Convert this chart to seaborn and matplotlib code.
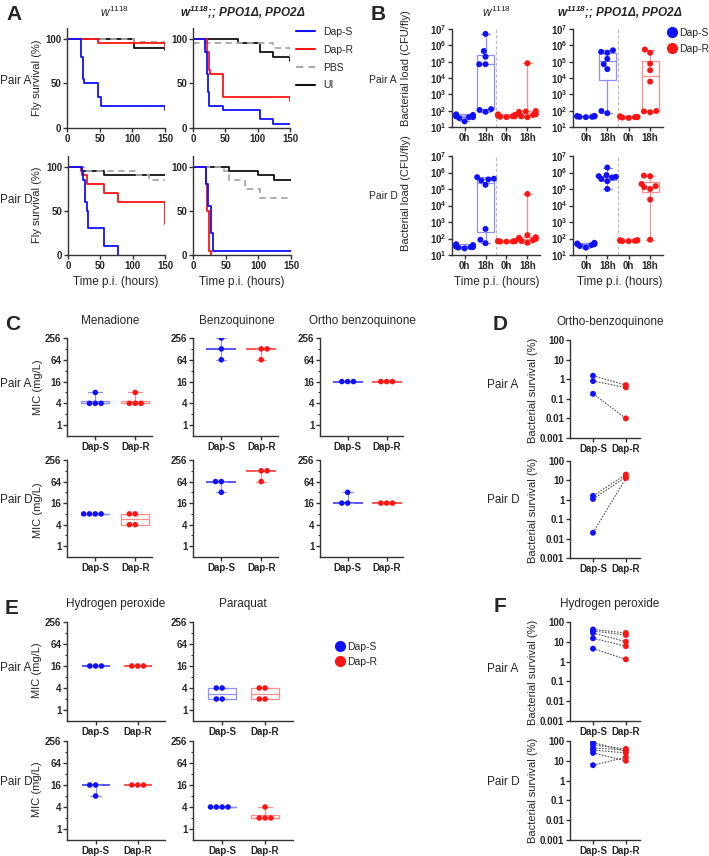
import numpy as np
import pandas as pd
import matplotlib
matplotlib.use("Agg")
import matplotlib.pyplot as plt
import seaborn as sns
from matplotlib.lines import Line2D
from matplotlib.ticker import NullLocator, NullFormatter

# ---------------- data ----------------
# A: Kaplan-Meier survival (time h, survival %)
A_w_S_t = [0, 22, 24, 26, 47, 52, 150, 150];     A_w_S_s = [100, 80, 55, 50, 35, 25, 25, 20]
A_w_R_t = [0, 48, 150, 150];                      A_w_R_s = [100, 95, 95, 90]
A_w_PBS_t = [0, 103, 150];                        A_w_PBS_s = [100, 96, 96]
A_w_UI_t = [0, 103, 150, 150];                    A_w_UI_s = [100, 90, 90, 87]
A_p_S_t = [0, 19, 21, 23, 25, 47, 103, 124, 150]; A_p_S_s = [100, 85, 60, 40, 25, 20, 10, 5, 5]
A_p_R_t = [0, 21, 24, 26, 47, 150, 150];          A_p_R_s = [100, 85, 65, 60, 35, 35, 30]
A_p_PBS_t = [0, 5, 124, 150, 150];                A_p_PBS_s = [95, 95, 90, 90, 80]
A_p_UI_t = [0, 70, 103, 124, 150, 150];           A_p_UI_s = [100, 95, 85, 80, 80, 75]
D_w_S_t = [0, 21, 23, 26, 27, 30, 31, 55, 77];    D_w_S_s = [100, 95, 85, 75, 60, 50, 30, 10, 0]
D_w_R_t = [0, 20, 22, 30, 55, 77, 150, 150];      D_w_R_s = [100, 95, 90, 80, 70, 60, 60, 35]
D_w_PBS_t = [0, 25, 103, 125, 150];               D_w_PBS_s = [100, 95, 90, 85, 85]
D_w_UI_t = [0, 22, 55, 150];                      D_w_UI_s = [100, 95, 90, 90]
D_p_S_t = [0, 20, 23, 27, 30, 150];               D_p_S_s = [100, 80, 55, 25, 5, 5]
D_p_R_t = [0, 20, 22, 24, 27];                    D_p_R_s = [100, 80, 50, 5, 0]
D_p_PBS_t = [0, 47, 55, 79, 103, 150];            D_p_PBS_s = [100, 95, 85, 75, 65, 65]
D_p_UI_t = [0, 55, 100, 124, 150];                D_p_UI_s = [100, 95, 90, 85, 85]

# B: bacterial load (CFU/fly)
B_A_w = {"S0": [60, 55, 50, 45, 45, 40, 40, 35, 22],
         "S18": [5e6, 4.5e5, 2e5, 7e4, 7e4, 125, 110, 85],
         "R0": [60, 55, 50, 50, 45, 45, 40, 42],
         "R18": [8e4, 95, 90, 85, 70, 60, 55, 45, 40]}
B_A_p = {"S0": [48, 45, 42, 45, 40, 44, 47, 42],
         "S18": [5e5, 4e5, 3.5e5, 1.5e5, 7e4, 3.5e4, 95, 70],
         "R0": [42, 40, 38, 45, 40, 36, 42],
         "R18": [5.5e5, 3.5e5, 7.5e4, 3e4, 6e3, 95, 90, 80]}
B_D_w = {"S0": [40, 35, 45, 30, 28, 25, 32, 30, 35],
         "S18": [5.2e5, 4.2e5, 3.8e5, 3.3e5, 1.8e5, 380, 84, 52],
         "R0": [70, 68, 65, 70, 66, 68, 65],
         "R18": [5e4, 160, 120, 100, 95, 80, 70, 55, 110]}
B_D_p = {"S0": [55, 50, 45, 40, 35, 45, 50, 28],
         "S18": [2e6, 7e5, 6e5, 5.5e5, 5e5, 4e5, 3e5, 1e5],
         "R0": [75, 80, 70, 75, 78, 70, 72],
         "R18": [6.5e5, 6e5, 2e5, 1.5e5, 1.3e5, 1e5, 2.3e4, 85]}
B_groups = ["S0", "S18", "R0", "R18"]
B_ticklabels = ["0h", "18h", "0h", "18h"]

# C / E: MIC (mg/L)
mic_titles_C = ["Menadione", "Benzoquinone", "Ortho benzoquinone"]
mic_C_A = [([8, 4, 4, 4], [8, 4, 4, 4]), ([256, 128, 64], [128, 128, 64]), ([16, 16, 16], [16, 16, 16])]
mic_C_D = [([8, 8, 8, 8], [8, 8, 4, 4]), ([64, 64, 32], [128, 128, 64]), ([32, 16, 16], [16, 16, 16])]
mic_titles_E = ["Hydrogen peroxide", "Paraquat"]
mic_E_A = [([16, 16, 16], [16, 16, 16]), ([4, 4, 2, 2], [4, 4, 2, 2])]
mic_E_D = [([16, 16, 8], [16, 16, 16]), ([4, 4, 4, 4], [4, 2, 2, 2])]

# D / F: bacterial survival (%), paired replicates
surv_D_A = ([1.5, 0.8, 0.18], [0.5, 0.38, 0.01])
surv_D_D = ([1.6, 1.1, 0.02], [20, 15, 13])
surv_F_A = ([42, 35, 28, 15, 4.5], [28, 22, 10, 6, 1.3])
surv_F_D = ([85, 65, 45, 35, 25, 6], [30, 40, 35, 25, 10, 15])

strains = ["Dap-S", "Dap-R"]
BLUE, RED = "#1010FF", "#FF1414"
MBLUE, MRED = "#3A3AFF", "#FF3A3A"
LBLUE, LRED = "#8F8FFF", "#FF8F8F"
pal = {"Dap-S": BLUE, "Dap-R": RED}
mpal = {"Dap-S": MBLUE, "Dap-R": MRED}
lpal = {"Dap-S": LBLUE, "Dap-R": LRED}

sns.set_style("ticks")
plt.rcParams["font.family"] = ["Liberation Sans", "DejaVu Sans"]
plt.rcParams["mathtext.fontset"] = "custom"
plt.rcParams["mathtext.rm"] = "Liberation Sans"
plt.rcParams["mathtext.it"] = "Liberation Sans:italic"
plt.rcParams["mathtext.bf"] = "Liberation Sans:italic:bold"   # bold-italic genotype title
plt.rcParams["mathtext.sf"] = "Liberation Sans:bold"          # bold log tick labels

W, H = 709, 856
fig = plt.figure(figsize=(W / 100, H / 100), dpi=100)
AXC = "#333333"

W1118 = r"$\mathit{w}^{\mathit{1118}}$"
PPO = r"$\mathbf{w^{1118}}$;; PPO1Δ, PPO2Δ"


def add_ax(l, t, r, b):
    return fig.add_axes([l / W, 1 - b / H, (r - l) / W, (b - t) / H])


def txt(x, y, s, size=8.5, ha="center", **kw):
    fig.text(x / W, 1 - y / H, s, ha=ha, va="center", fontsize=size, **kw)


def style(ax):
    sns.despine(ax=ax)
    for sp in ["left", "bottom"]:
        ax.spines[sp].set_linewidth(1.0)
        ax.spines[sp].set_color(AXC)
    ax.tick_params(width=1.0, length=2.8, color=AXC, labelsize=7, pad=1.3)
    ax.set_xlabel("")
    ax.set_ylabel("")


# ---------------- A: survival curves ----------------
surv_sets = [
    (add_ax(67, 28, 165, 128), [(A_w_UI_t, A_w_UI_s, "UI"), (A_w_PBS_t, A_w_PBS_s, "PBS"), (A_w_R_t, A_w_R_s, "Dap-R"), (A_w_S_t, A_w_S_s, "Dap-S")]),
    (add_ax(193, 28, 290, 128), [(A_p_UI_t, A_p_UI_s, "UI"), (A_p_PBS_t, A_p_PBS_s, "PBS"), (A_p_R_t, A_p_R_s, "Dap-R"), (A_p_S_t, A_p_S_s, "Dap-S")]),
    (add_ax(68, 156, 165, 255), [(D_w_UI_t, D_w_UI_s, "UI"), (D_w_PBS_t, D_w_PBS_s, "PBS"), (D_w_R_t, D_w_R_s, "Dap-R"), (D_w_S_t, D_w_S_s, "Dap-S")]),
    (add_ax(193, 156, 291, 255), [(D_p_UI_t, D_p_UI_s, "UI"), (D_p_PBS_t, D_p_PBS_s, "PBS"), (D_p_R_t, D_p_R_s, "Dap-R"), (D_p_S_t, D_p_S_s, "Dap-S")]),
]
line_style = {"Dap-S": dict(color=BLUE, ls="-"), "Dap-R": dict(color=RED, ls="-"),
              "PBS": dict(color="#A8A8A8", ls=(0, (3.5, 2.5))), "UI": dict(color="#111111", ls="-")}
for ax, curves in surv_sets:
    for t, s, name in curves:
        sns.lineplot(x=t, y=s, estimator=None, sort=False, drawstyle="steps-post",
                     lw=1.3, ax=ax, **line_style[name])
    ax.set_xlim(0, 150)
    ax.set_ylim(0, 112)
    ax.set_xticks([0, 50, 100, 150])
    ax.set_xticklabels(["0", "50", "100", "150"], fontweight="bold")
    ax.set_yticks([0, 50, 100])
    ax.set_yticklabels(["0", "50", "100"], fontweight="bold")
    style(ax)

handles = [Line2D([], [], lw=1.5, **line_style[n]) for n in ["Dap-S", "Dap-R", "PBS", "UI"]]
fig.legend(handles, ["Dap-S", "Dap-R", "PBS", "UI"], loc="upper left",
           bbox_to_anchor=(296 / W, 1 - 27 / H), frameon=False, fontsize=7.5,
           handlelength=1.8, handletextpad=0.8, labelspacing=0.75, borderpad=0, borderaxespad=0)

txt(14, 15, "A", size=15, weight="bold")
txt(115, 12, W1118, size=8.5)
txt(243, 12, PPO, size=8.5, weight="bold", style="italic")
txt(0, 81, "Pair A", ha="left")
txt(0, 200, "Pair D", ha="left")
txt(37, 78, "Fly survival (%)", size=8, rotation=90)
txt(37, 205, "Fly survival (%)", size=8, rotation=90)
txt(116, 282, "Time p.i. (hours)", size=8.5)
txt(242, 282, "Time p.i. (hours)", size=8.5)

# ---------------- B: bacterial load ----------------
B_sets = [(add_ax(452, 29, 540, 127), B_A_w), (add_ax(573, 29, 663, 127), B_A_p),
          (add_ax(452, 156, 540, 255), B_D_w), (add_ax(573, 156, 663, 255), B_D_p)]
for ax, d in B_sets:
    df = pd.DataFrame([(g, v, "Dap-S" if g.startswith("S") else "Dap-R")
                       for g in B_groups for v in d[g]], columns=["grp", "val", "strain"])
    ax.set_yscale("log")
    sns.boxplot(data=df, x="grp", y="val", hue="strain", order=B_groups, palette=lpal,
                fill=False, whis=(0, 100), width=0.8, linewidth=0.9, showfliers=False,
                dodge=False, legend=False, ax=ax)
    sns.swarmplot(data=df, x="grp", y="val", hue="strain", order=B_groups, palette=pal,
                  size=4.3, linewidth=0, legend=False, ax=ax, warn_thresh=1)
    ax.axvline(1.5, color="#BBBBBB", lw=0.8, ls=(0, (3, 2)))
    ax.set_xlim(-0.6, 3.6)
    ax.set_ylim(10, 1e7)
    ax.set_yticks([10 ** i for i in range(1, 8)])
    ax.set_yticklabels([r"$\mathsf{10^{%d}}$" % i for i in range(1, 8)])
    ax.yaxis.set_minor_locator(NullLocator())
    ax.set_xticks(range(4))
    ax.set_xticklabels(B_ticklabels, fontweight="bold")
    style(ax)

fig.legend([Line2D([], [], marker="o", ls="", color=BLUE, markersize=7),
            Line2D([], [], marker="o", ls="", color=RED, markersize=7)], strains,
           loc="upper left", bbox_to_anchor=(666 / W, 1 - 28 / H), frameon=False, fontsize=7.5,
           handletextpad=0.1, labelspacing=0.55, borderpad=0, borderaxespad=0, handlelength=1.2)

txt(378, 14, "B", size=15, weight="bold")
txt(497, 12, W1118, size=8.5)
txt(620, 12, PPO, size=8.5, weight="bold", style="italic")
txt(369, 80, "Pair A", size=7.5, ha="left")
txt(369, 196, "Pair D", size=7.5, ha="left")
txt(406, 68, "Bacterial load (CFU/fly)", size=8, rotation=90)
txt(406, 193, "Bacterial load (CFU/fly)", size=8, rotation=90)
txt(497, 282, "Time p.i. (hours)", size=8.5)
txt(620, 282, "Time p.i. (hours)", size=8.5)


# ---------------- C / E: MIC ----------------
def mic_plot(ax, pair, xlim, width):
    s_vals, r_vals = pair
    df = pd.DataFrame({"strain": ["Dap-S"] * len(s_vals) + ["Dap-R"] * len(r_vals),
                       "val": list(s_vals) + list(r_vals)})
    ax.set_yscale("log", base=2)
    for st in strains:
        sub = df[df["strain"] == st]
        if len(sub) > 3:
            # box (quartiles) with min-max whiskers
            sns.boxplot(data=sub, x="strain", y="val", hue="strain", order=strains, palette=lpal,
                        fill=False, whis=(0, 100), width=width, linewidth=0.9, showfliers=False,
                        dodge=False, legend=False, ax=ax)
        else:
            # median with range
            sns.pointplot(data=sub, x="strain", y="val", hue="strain", order=strains, palette=mpal,
                          estimator="median", errorbar=("pi", 100), linestyle="none", marker="_",
                          markersize=width * 30, markeredgewidth=1.2, capsize=0.25,
                          err_kws={"linewidth": 0.9, "color": lpal[st]}, legend=False, ax=ax)
    sns.swarmplot(data=df, x="strain", y="val", hue="strain", order=strains, palette=pal,
                  size=4.0, linewidth=0, legend=False, ax=ax, zorder=4)
    ax.set_xlim(*xlim)
    ax.set_ylim(0.5, 256)
    ax.set_yticks([1, 4, 16, 64, 256])
    ax.set_yticklabels(["1", "4", "16", "64", "256"], fontweight="bold")
    ax.set_yticks([2, 8, 32, 128], minor=True)
    ax.yaxis.set_minor_formatter(NullFormatter())
    ax.set_xticks([0, 1])
    ax.set_xticklabels(strains, fontweight="bold")
    style(ax)
    ax.tick_params(which="minor", length=1.8, width=0.8, color=AXC)


C_cols = [(67, 152), (193, 278), (320, 403)]
for (l, r), pa, pd_, title in zip(C_cols, mic_C_A, mic_C_D, mic_titles_C):
    mic_plot(add_ax(l, 338, r, 436), pa, (-0.71, 1.42), 0.7)
    mic_plot(add_ax(l, 460, r, 557), pd_, (-0.71, 1.42), 0.7)
    txt((l + r) / 2 + 1, 321, title, size=8.5)
txt(13, 325, "C", size=15, weight="bold")
txt(0, 384, "Pair A", ha="left")
txt(0, 500, "Pair D", ha="left")
txt(38, 387, "MIC (mg/L)", size=8, rotation=90)
txt(38, 510, "MIC (mg/L)", size=8, rotation=90)

E_cols = [(67, 165), (193, 293)]
for (l, r), pa, pd_, title in zip(E_cols, mic_E_A, mic_E_D, mic_titles_E):
    mic_plot(add_ax(l, 622, r, 721), pa, (-0.68, 1.65), 0.65)
    mic_plot(add_ax(l, 741, r, 840), pd_, (-0.68, 1.65), 0.65)
txt(116, 604, mic_titles_E[0], size=8.5)
txt(243, 604, mic_titles_E[1], size=8.5)
txt(12, 608, "E", size=15, weight="bold")
txt(0, 668, "Pair A", ha="left")
txt(0, 782, "Pair D", ha="left")
txt(37, 670, "MIC (mg/L)", size=8, rotation=90)
txt(37, 789, "MIC (mg/L)", size=8, rotation=90)
fig.legend([Line2D([], [], marker="o", ls="", color=BLUE, markersize=7),
            Line2D([], [], marker="o", ls="", color=RED, markersize=7)], strains,
           loc="upper left", bbox_to_anchor=(334 / W, 1 - 642 / H), frameon=False, fontsize=7.5,
           handletextpad=0.1, labelspacing=0.45, borderpad=0, borderaxespad=0, handlelength=1.2)


# ---------------- D / F: paired survival ----------------
def paired_plot(ax, pair):
    s_vals, r_vals = pair
    n = len(s_vals)
    df = pd.DataFrame({"strain": ["Dap-S"] * n + ["Dap-R"] * n,
                       "val": list(s_vals) + list(r_vals),
                       "rep": list(range(n)) * 2})
    ax.set_yscale("log")
    sns.lineplot(data=df, x="strain", y="val", units="rep", estimator=None, sort=False,
                 color="#555555", lw=0.8, ls=(0, (1.5, 1.2)), ax=ax)
    sns.scatterplot(data=df, x="strain", y="val", hue="strain", palette=pal, s=18,
                    linewidth=0, legend=False, zorder=3, ax=ax)
    ax.set_xlim(-0.7, 1.43)
    ax.set_ylim(0.001, 100)
    ax.set_yticks([0.001, 0.01, 0.1, 1, 10, 100])
    ax.set_yticklabels(["0.001", "0.01", "0.1", "1", "10", "100"], fontweight="bold")
    ax.yaxis.set_minor_locator(NullLocator())
    ax.set_xticks([0, 1])
    ax.set_xticklabels(strains, fontweight="bold")
    style(ax)


paired_plot(add_ax(570, 340, 640, 438), surv_D_A)
paired_plot(add_ax(570, 461, 640, 558), surv_D_D)
txt(500, 325, "D", size=15, weight="bold")
txt(610, 322, "Ortho-benzoquinone", size=8.5)
txt(503, 385, "Pair A")
txt(503, 500, "Pair D")
txt(533, 390, "Bacterial survival (%)", size=8, rotation=90)
txt(533, 510, "Bacterial survival (%)", size=8, rotation=90)

paired_plot(add_ax(570, 622, 640, 721), surv_F_A)
paired_plot(add_ax(570, 741, 640, 840), surv_F_D)
txt(500, 607, "F", size=15, weight="bold")
txt(610, 604, "Hydrogen peroxide", size=8.5)
txt(503, 669, "Pair A")
txt(503, 782, "Pair D")
txt(533, 672, "Bacterial survival (%)", size=8, rotation=90)
txt(533, 790, "Bacterial survival (%)", size=8, rotation=90)

fig.savefig("out.png", dpi=100)
